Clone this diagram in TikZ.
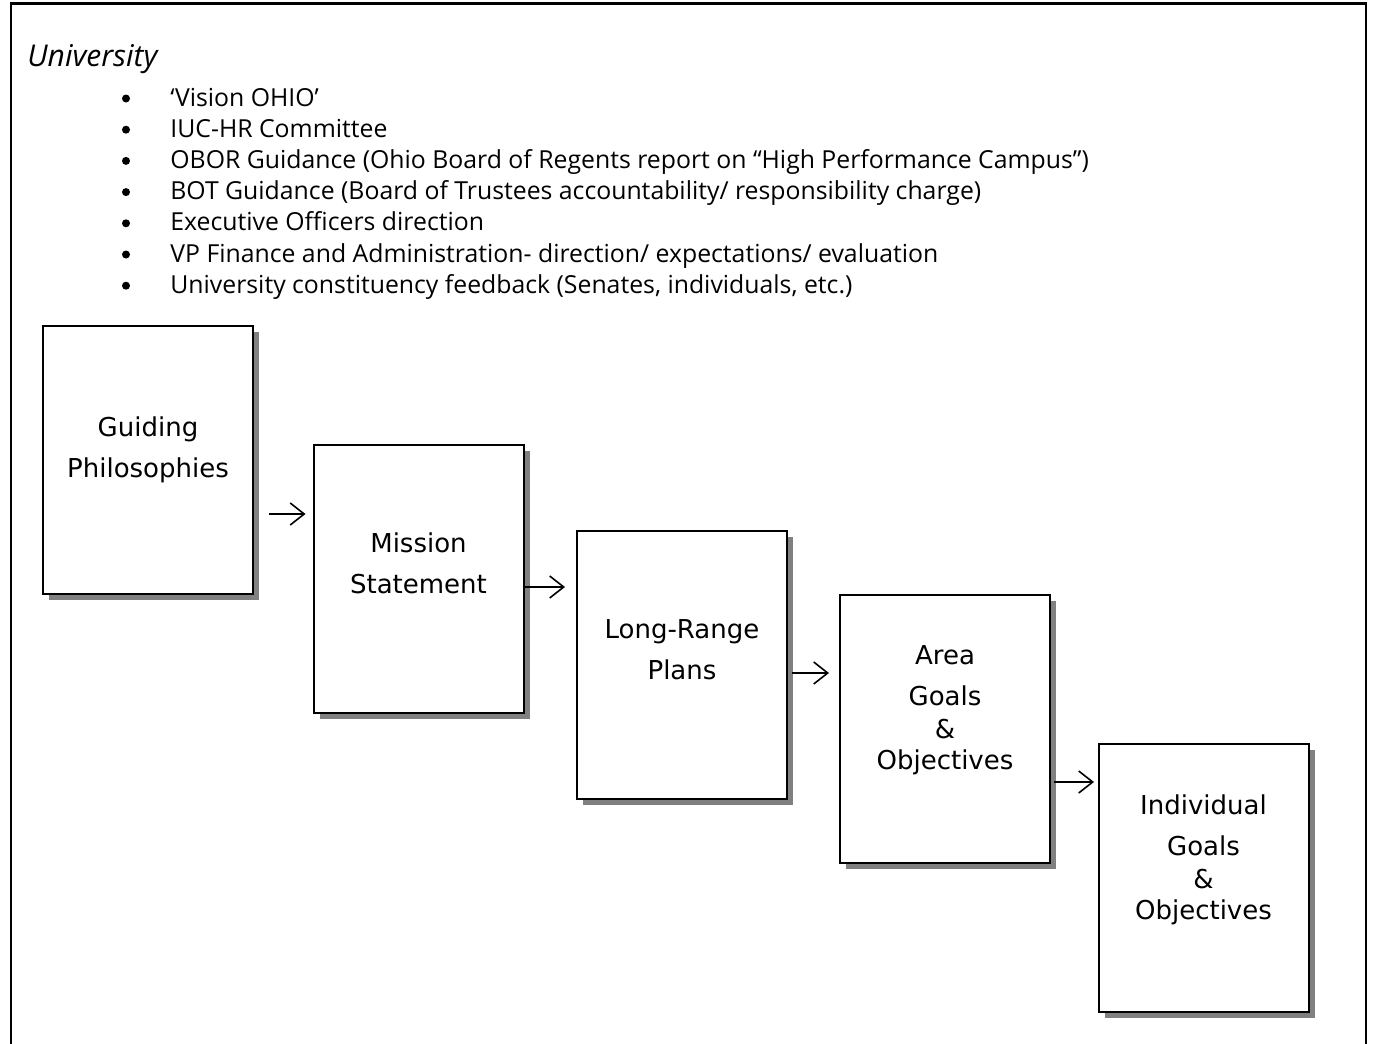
\documentclass[tikz,border=0pt]{standalone}
\usepackage{fontspec}
\setmainfont{Open Sans}
\newfontfamily\boxfont{DejaVu Sans}
\usetikzlibrary{positioning, arrows.meta, calc, shadows}

\begin{document}
\begin{tikzpicture}[x=0.5pt, y=-0.5pt, >={Straight Barb[length=7pt, width=11pt]},
    box/.style={rectangle, draw, line width=1pt, fill=white, minimum width=105pt, minimum height=134pt, inner sep=0pt,
      copy shadow={shadow xshift=3pt, shadow yshift=-3pt, fill=black!50, draw=none}},
    boxtext/.style={align=center, inner sep=0pt, font=\boxfont\fontsize{13}{20.5}\selectfont},
    item/.style={anchor=base west, inner sep=0pt, font=\fontsize{12.4}{15}\selectfont},
    dot/.style={circle, fill, inner sep=0pt, minimum size=4pt},
    arr/.style={->, line width=0.8pt}]
  \useasboundingbox (0,0) rectangle (1373,1044);

  % frame, open at the bottom
  \draw[line width=1.3pt] (11,1044) -- (11,3.5) -- (1366,3.5) -- (1366,1044);

  % heading and list
  \node[anchor=base west, inner sep=0pt, font=\itshape\fontsize{15}{17}\selectfont] (uni) at (27,67) {University};
  \foreach \txt [count=\i from 0] in {{‘Vision OHIO’}, {IUC-HR Committee},
      {OBOR Guidance (Ohio Board of Regents report on “High Performance Campus”)},
      {BOT Guidance (Board of Trustees accountability/ responsibility charge)},
      {Executive Officers direction},
      {VP Finance and Administration- direction/ expectations/ evaluation},
      {University constituency feedback (Senates, individuals, etc.)}} {
    \node[dot] (dot\i) at (126,98.5+31.2*\i) {};
    \node[item] (item\i) at (170,106+31.2*\i) {\txt};
  }

  % staircase of boxes
  \node[box] (guide)   at (148,459.5)  {};
  \node[box] (mission) at (418.5,579)  {};
  \node[box] (plans)   at (682,665)    {};
  \node[box] (area)    at (945,728.5)  {};
  \node[box] (indiv)   at (1203.5,877.5) {};

  \node[boxtext, below=46pt of guide.north]   (guide-t)   {Guiding\\Philosophies};
  \node[boxtext, below=44pt of mission.north] (mission-t) {Mission\\Statement};
  \node[boxtext, below=44.5pt of plans.north] (plans-t)   {Long-Range\\Plans};
  \node[boxtext, below=26pt of area.north]    (area-t)    {Area\\Goals\\[-4pt]\&\\[-5pt]Objectives};
  \node[boxtext, below=26pt of indiv.north]   (indiv-t)   {Individual\\Goals\\[-4pt]\&\\[-5pt]Objectives};

  % arrows between the steps
  \draw[arr] ($(guide.east)+(15,54.5)$)  -- ($(mission.west)+(-7,-65)$);
  \draw[arr] ($(mission.east)+(0,8)$)    -- ($(plans.west)+(-11,-78)$);
  \draw[arr] ($(plans.east)+(4,8)$)      -- ($(area.west)+(-10,-55.5)$);
  \draw[arr] ($(area.east)+(3,53.5)$)    -- ($(indiv.west)+(-3.5,-95.5)$);
\end{tikzpicture}
\end{document}
